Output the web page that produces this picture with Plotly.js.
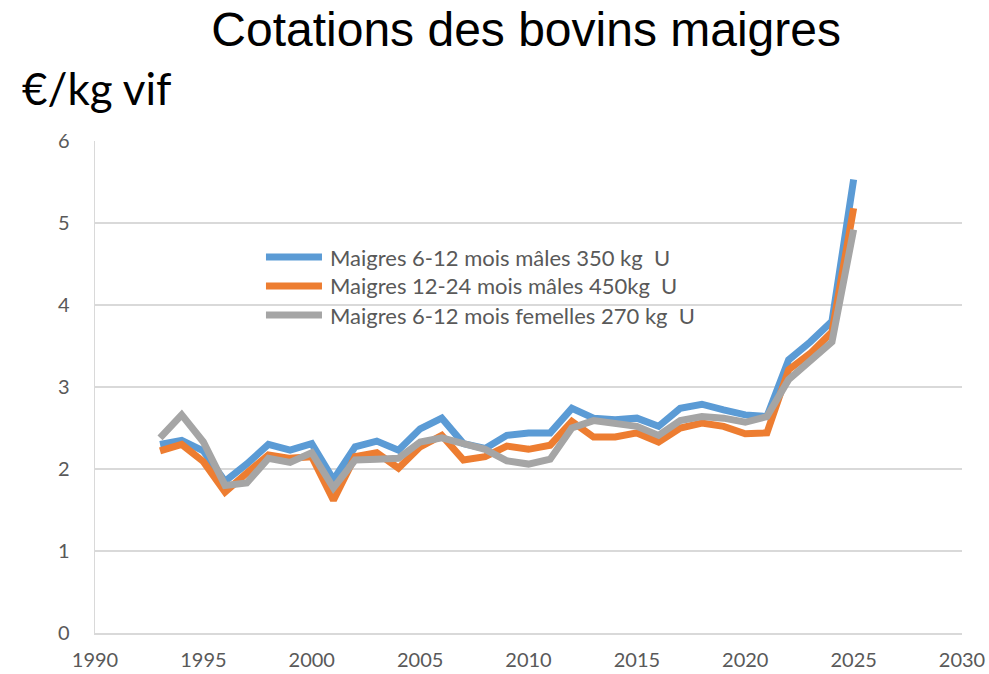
<!DOCTYPE html>
<html>
<head>
<meta charset="utf-8">
<script src="https://cdn.plot.ly/plotly-3.0.1.min.js"></script>
<style>html,body{margin:0;padding:0;background:#fff;}#chart{width:989px;height:674px;}</style>
</head>
<body>
<div id="chart"></div>
<script>
const years = [1993,1994,1995,1996,1997,1998,1999,2000,2001,2002,2003,2004,2005,2006,2007,2008,2009,2010,2011,2012,2013,2014,2015,2016,2017,2018,2019,2020,2021,2022,2023,2024,2025];
const males612 = [2.30,2.35,2.22,1.85,2.06,2.30,2.23,2.31,1.87,2.27,2.34,2.23,2.49,2.62,2.31,2.25,2.41,2.44,2.44,2.74,2.62,2.60,2.62,2.52,2.74,2.79,2.72,2.66,2.64,3.33,3.55,3.80,5.53];
const males1224 = [2.22,2.30,2.09,1.72,1.95,2.17,2.13,2.15,1.62,2.15,2.20,2.01,2.27,2.41,2.11,2.15,2.28,2.24,2.29,2.58,2.39,2.39,2.44,2.33,2.50,2.56,2.52,2.43,2.44,3.21,3.41,3.67,5.18];
const femelles612 = [2.38,2.66,2.33,1.80,1.83,2.13,2.08,2.20,1.77,2.11,2.12,2.13,2.33,2.38,2.31,2.24,2.10,2.06,2.12,2.50,2.59,2.55,2.52,2.41,2.59,2.64,2.62,2.57,2.64,3.09,3.33,3.55,4.92];
const seriesNames = ["Maigres 6-12 mois mâles 350 kg\u00a0\u00a0U","Maigres 12-24 mois mâles 450kg\u00a0\u00a0U","Maigres 6-12 mois femelles 270 kg\u00a0\u00a0U"];
const colors = ["#5B9BD5","#ED7D31","#A5A5A5"];
const xTicks = [1990,1995,2000,2005,2010,2015,2020,2025,2030];
const yTicks = [0,1,2,3,4,5,6];

const series = [males612, males1224, femelles612];
const traces = series.map((s,i)=>({
  x: years, y: s, type:'scatter', mode:'lines', name: seriesNames[i],
  line:{color:colors[i], width:7}, showlegend:false
}));

// legend drawn in the plot's paper space
const legY = [0.7642, 0.7053, 0.6463];
const shapes = [];
const annotations = [];
seriesNames.forEach((n,i)=>{
  shapes.push({type:'line', xref:'paper', yref:'paper', x0:0.1972, x1:0.2618, y0:legY[i], y1:legY[i], line:{color:colors[i], width:7}});
  annotations.push({text:n, xref:'paper', yref:'paper', x:0.2687, y:legY[i], xanchor:'left', yanchor:'middle', showarrow:false, font:{family:'Lato, Carlito, sans-serif', size:22, color:'#595959'}});
});
annotations.push({text:'€/kg vif', xref:'paper', yref:'paper', x:-0.086, y:1.108, xanchor:'left', yanchor:'middle', showarrow:false, font:{family:'Lato, Carlito, sans-serif', size:44, color:'#000'}});

const layout = {
  width:989, height:674,
  margin:{l:95, r:27, t:141, b:41},
  paper_bgcolor:'#fff', plot_bgcolor:'#fff',
  title:{text:'Cotations des bovins maigres', font:{family:'Liberation Sans, Arial', size:48, color:'#000'}, x:0.532, xanchor:'center', y:0.957, yanchor:'middle', yref:'container'},
  xaxis:{range:[1990,2030], tickvals:xTicks, ticktext:xTicks.map(String), showgrid:false, zeroline:false, showline:true, linecolor:'#d9d9d9', linewidth:1.5, ticks:'', tickfont:{family:'Lato, Carlito, sans-serif', size:20, color:'#595959'}, ticklabelstandoff:8},
  yaxis:{range:[0,6], tickvals:yTicks, ticktext:yTicks.map(String), showgrid:true, gridcolor:'#d9d9d9', gridwidth:1.5, zeroline:false, showline:true, linecolor:'#d9d9d9', linewidth:1.5, ticks:'', tickfont:{family:'Lato, Carlito, sans-serif', size:20, color:'#595959'}, ticklabelstandoff:20},
  showlegend:false,
  shapes: shapes,
  annotations: annotations
};
Plotly.newPlot('chart', traces, layout, {staticPlot:true, displayModeBar:false});
</script>
</body>
</html>
